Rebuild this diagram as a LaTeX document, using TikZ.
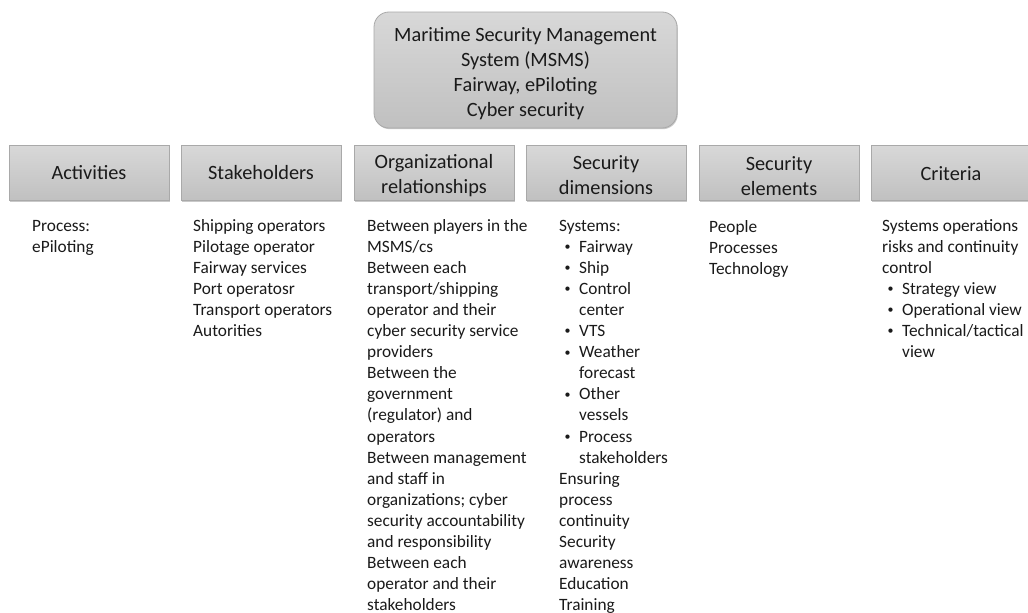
\documentclass[tikz,border=0pt]{standalone}
\usepackage{fontspec}
\setmainfont{Carlito}
\usetikzlibrary{shadows}

\definecolor{boxtop}{HTML}{D8D8D8}
\definecolor{boxbot}{HTML}{C0C0C0}
\definecolor{boxline}{HTML}{A9A9A9}
\definecolor{ink}{HTML}{1A1A1A}

% body text and list helpers
\newcommand\bodyfont{\fontsize{17.3}{21.1}\selectfont}
\newcommand\headfont{\fontsize{20.3}{25}\selectfont}
\newcommand\smallbullet{\raisebox{1.6pt}{\fontsize{12}{12}\selectfont\textbullet}}
\newcommand\bul[1]{\makebox[20pt][l]{\hspace{5.5pt}\smallbullet}#1}
\newcommand\ind[1]{\hspace{20pt}#1}
\newcommand\lines[1]{\begin{tabular}[t]{@{}l@{}}#1\end{tabular}}
\newcommand\lift[1]{\rule{0pt}{#1}}

\tikzset{
  softshadow/.style={drop shadow={shadow xshift=0.8pt, shadow yshift=-1.2pt, opacity=0.35, fill=black!60}},
  titlebox/.style={draw=boxline, line width=0.8pt, top color=boxtop, bottom color=boxbot,
    rounded corners=15pt, minimum width=303pt, minimum height=116pt, inner sep=0pt,
    align=center, font=\headfont, text=ink, softshadow},
  headbox/.style={draw=boxline, line width=0.8pt, top color=boxtop, bottom color=boxbot,
    minimum width=160pt, minimum height=55pt, inner sep=0pt,
    align=center, font=\headfont, text=ink, softshadow},
  body/.style={anchor=base west, inner sep=0pt, font=\bodyfont, text=ink}
}

\begin{document}
\begin{tikzpicture}[x=1pt, y=-1pt]
\useasboundingbox[fill=white] (0,0) rectangle (1028,613);

% title
\node[titlebox] (title) at (525.5,70)
  {\lift{22pt}Maritime Security Management\\System (MSMS)\\Fairway, ePiloting\\Cyber security};

% column headers
\node[headbox] (h1) at (89,173)   {Activities};
\node[headbox] (h2) at (261,173)  {Stakeholders};
\node[headbox] (h3) at (434,173)  {\lift{19pt}Organizational\\relationships};
\node[headbox] (h4) at (606,173)  {\lift{19pt}Security\\dimensions};
\node[headbox] (h5) at (779,173)  {\lift{20pt}Security\\elements};
\node[headbox] (h6) at (951,173)  {\lift{16pt}Criteria};

% column contents
\node[body] (t1) at (32,231) {\lines{Process:\\ePiloting}};

\node[body] (t2) at (193,231) {\lines{Shipping operators\\Pilotage operator\\Fairway services\\Port operatosr\\Transport operators\\Autorities}};

\node[body] (t3) at (367,231) {\lines{Between players in the\\MSMS/cs\\Between each\\transport/shipping\\operator and their\\cyber security service\\providers\\Between the\\government\\(regulator) and\\operators\\Between management\\and staff in\\organizations; cyber\\security accountability\\and responsibility\\Between each\\operator and their\\stakeholders}};

\node[body] (t4) at (559,231) {\lines{Systems:\\\bul{Fairway}\\\bul{Ship}\\\bul{Control}\\\ind{center}\\\bul{VTS}\\\bul{Weather}\\\ind{forecast}\\\bul{Other}\\\ind{vessels}\\\bul{Process}\\\ind{stakeholders}\\Ensuring\\process\\continuity\\Security\\awareness\\Education\\Training}};

\node[body] (t5) at (709,232) {\lines{People\\Processes\\Technology}};

\node[body] (t6) at (882,231) {\lines{Systems operations\\risks and continuity\\control\\\bul{Strategy view}\\\bul{Operational view}\\\bul{Technical/tactical}\\\ind{view}}};
\end{tikzpicture}
\end{document}
